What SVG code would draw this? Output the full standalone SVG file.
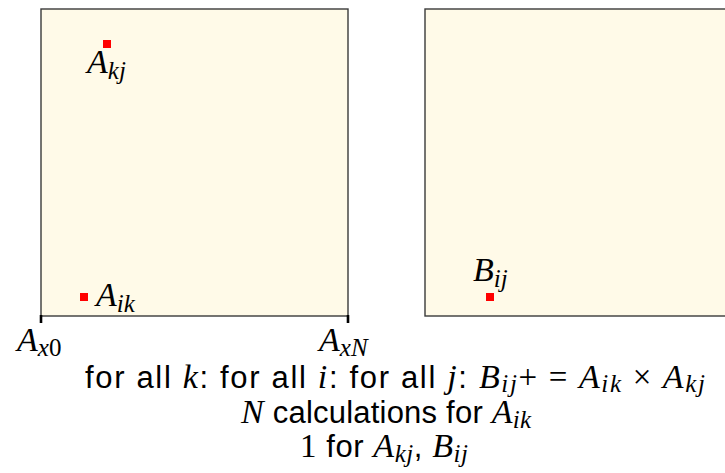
<svg xmlns="http://www.w3.org/2000/svg" width="725" height="473" viewBox="0 0 725 473">
<style>
.box{fill:#fffae8;stroke:#3a3a3a;stroke-width:1.4}
.pt{fill:#ff0000}
.tick{stroke:#000;stroke-width:2.6}
.mi{font-family:"Liberation Serif",serif;font-style:italic;font-size:34px}
.mr{font-family:"Liberation Serif",serif;font-style:normal;font-size:33px}
.sans{font-family:"Liberation Sans",sans-serif;font-size:31px;fill:#000}
.lbl{font-family:"Liberation Serif",serif;font-style:italic;font-size:34px;fill:#000}
.sub{font-size:25px}
</style>
<g id="matrixA">
<rect class="box" x="41" y="9" width="307" height="307"/>
<rect class="pt" x="103" y="40" width="8" height="8"/>
<text class="lbl" x="87" y="73">A<tspan class="sub" dy="6">kj</tspan></text>
<rect class="pt" x="80" y="293" width="8" height="8"/>
<text class="lbl" x="96" y="306">A<tspan class="sub" dy="6">ik</tspan></text>
</g>
<g id="matrixB">
<rect class="box" x="425" y="9" width="320" height="307"/>
<rect class="pt" x="486" y="293" width="8" height="8"/>
<text class="lbl" x="473" y="281">B<tspan class="sub" dy="6">ij</tspan></text>
</g>
<g id="axis">
<line class="tick" x1="41" y1="315" x2="41" y2="323"/>
<line class="tick" x1="348" y1="315" x2="348" y2="323"/>
<text class="lbl" x="17" y="351">A<tspan class="sub" dy="5">x</tspan><tspan class="sub mr">0</tspan></text>
<text class="lbl" x="319" y="351">A<tspan class="sub" dy="5">xN</tspan></text>
</g>
<g id="caption">
<text class="sans" x="85" y="388" textLength="620" lengthAdjust="spacing">for all <tspan class="mi">k</tspan>: for all <tspan class="mi">i</tspan>: for all <tspan class="mi">j</tspan>: <tspan class="mi">B</tspan><tspan class="mi sub" dy="4">ij</tspan><tspan class="mr" dy="-4">+ = </tspan><tspan class="mi">A</tspan><tspan class="mi sub" dy="4">ik</tspan><tspan class="mr" dy="-4"> × </tspan><tspan class="mi">A</tspan><tspan class="mi sub" dy="4">kj</tspan></text>
<text class="sans" x="241" y="423" textLength="290" lengthAdjust="spacing"><tspan class="mi">N</tspan> calculations for <tspan class="mi">A</tspan><tspan class="mi sub" dy="5">ik</tspan></text>
<text class="sans" x="300" y="457" textLength="168" lengthAdjust="spacing"><tspan class="mr">1</tspan> for <tspan class="mi">A</tspan><tspan class="mi sub" dy="5">kj</tspan><tspan dy="-5">, </tspan><tspan class="mi">B</tspan><tspan class="mi sub" dy="5">ij</tspan></text>
</g>
</svg>
